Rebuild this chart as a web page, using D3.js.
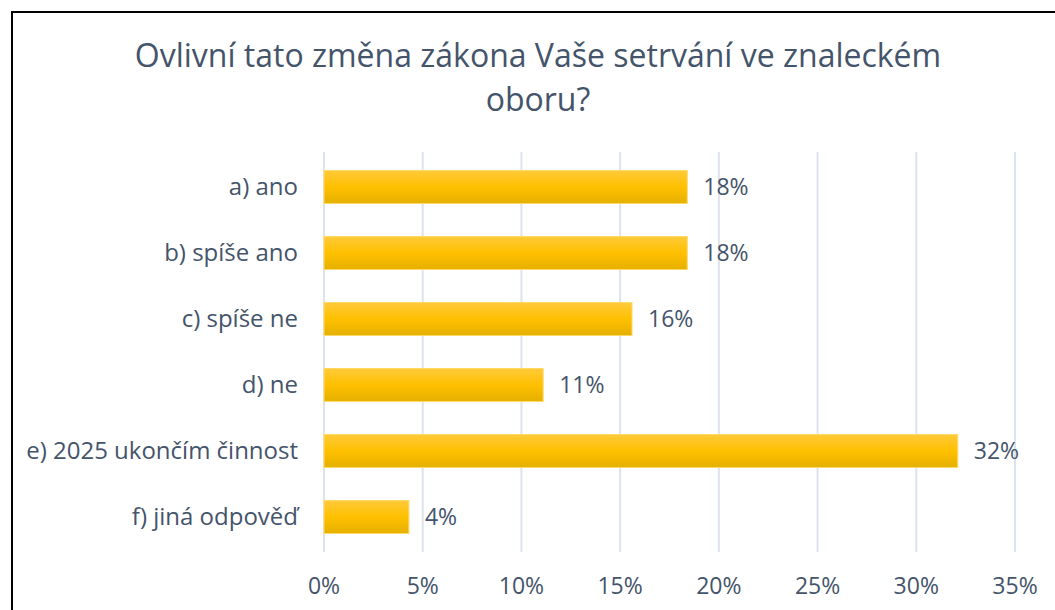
<!DOCTYPE html>
<html>
<head>
<meta charset="utf-8">
<script src="https://cdn.jsdelivr.net/npm/d3@7"></script>
<style>
  body { margin: 0; background: #fff; }
  svg text { font-family: "Open Sans", sans-serif; fill: #44546a; }
</style>
</head>
<body>
<div id="chart"></div>
<script>
// Chart data
const categories = [
  "a) ano",
  "b) spíše ano",
  "c) spíše ne",
  "d) ne",
  "e) 2025 ukončím činnost",
  "f) jiná odpověď"
];
const values = [18.4, 18.4, 15.6, 11.1, 32.1, 4.3];
const valueLabels = ["18%", "18%", "16%", "11%", "32%", "4%"];
const tickValues = [0, 5, 10, 15, 20, 25, 30, 35];

const width = 1055;
const height = 610;

const svg = d3
  .select("#chart")
  .append("svg")
  .attr("width", width)
  .attr("height", height);

// Bar gradient
const grad = svg
  .append("defs")
  .append("linearGradient")
  .attr("id", "barGrad")
  .attr("x1", 0).attr("y1", 0).attr("x2", 0).attr("y2", 1);
grad.append("stop").attr("offset", "0%").attr("stop-color", "#ffca3a");
grad.append("stop").attr("offset", "50%").attr("stop-color", "#ffc000");
grad.append("stop").attr("offset", "100%").attr("stop-color", "#e5b000");

// Frame
svg
  .append("rect")
  .attr("x", 12)
  .attr("y", 12)
  .attr("width", 1100)
  .attr("height", 700)
  .attr("fill", "none")
  .attr("stroke", "#000")
  .attr("stroke-width", 2);

// Title
const title = svg
  .append("text")
  .attr("text-anchor", "middle")
  .style("font-size", "32px");
title.append("tspan").attr("x", 538).attr("y", 67)
  .text("Ovlivní tato změna zákona Vaše setrvání ve znaleckém");
title.append("tspan").attr("x", 538).attr("y", 111).text("oboru?");

// Scales
const x = d3.scaleLinear().domain([0, 35]).range([324, 1015]);
const y = d3
  .scaleBand()
  .domain(categories)
  .range([154, 550])
  .paddingInner(0.5)
  .paddingOuter(0.25);

// Gridlines
svg
  .append("g")
  .selectAll("line")
  .data(tickValues)
  .enter()
  .append("line")
  .attr("x1", (d) => x(d))
  .attr("x2", (d) => x(d))
  .attr("y1", 152)
  .attr("y2", 552)
  .attr("stroke", "#dde3eb")
  .attr("stroke-width", 2);

// Tick labels
svg
  .append("g")
  .selectAll("text")
  .data(tickValues)
  .enter()
  .append("text")
  .attr("x", (d) => x(d))
  .attr("y", 594)
  .attr("text-anchor", "middle")
  .style("font-size", "23px")
  .text((d) => d + "%");

// Bars
svg
  .append("g")
  .selectAll("rect")
  .data(values)
  .enter()
  .append("rect")
  .attr("x", x(0))
  .attr("y", (d, i) => y(categories[i]))
  .attr("width", (d) => x(d) - x(0))
  .attr("height", y.bandwidth())
  .attr("fill", "url(#barGrad)")
  .attr("stroke", "#ffd966")
  .attr("stroke-width", 1);

// Value labels
svg
  .append("g")
  .selectAll("text")
  .data(values)
  .enter()
  .append("text")
  .attr("x", (d) => x(d) + 16)
  .attr("y", (d, i) => y(categories[i]) + y.bandwidth() / 2 + 8)
  .style("font-size", "23px")
  .text((d, i) => valueLabels[i]);

// Category labels
svg
  .append("g")
  .selectAll("text")
  .data(categories)
  .enter()
  .append("text")
  .attr("x", 298)
  .attr("y", (d) => y(d) + y.bandwidth() / 2 + 8)
  .attr("text-anchor", "end")
  .style("font-size", "24px")
  .text((d) => d);
</script>
</body>
</html>
